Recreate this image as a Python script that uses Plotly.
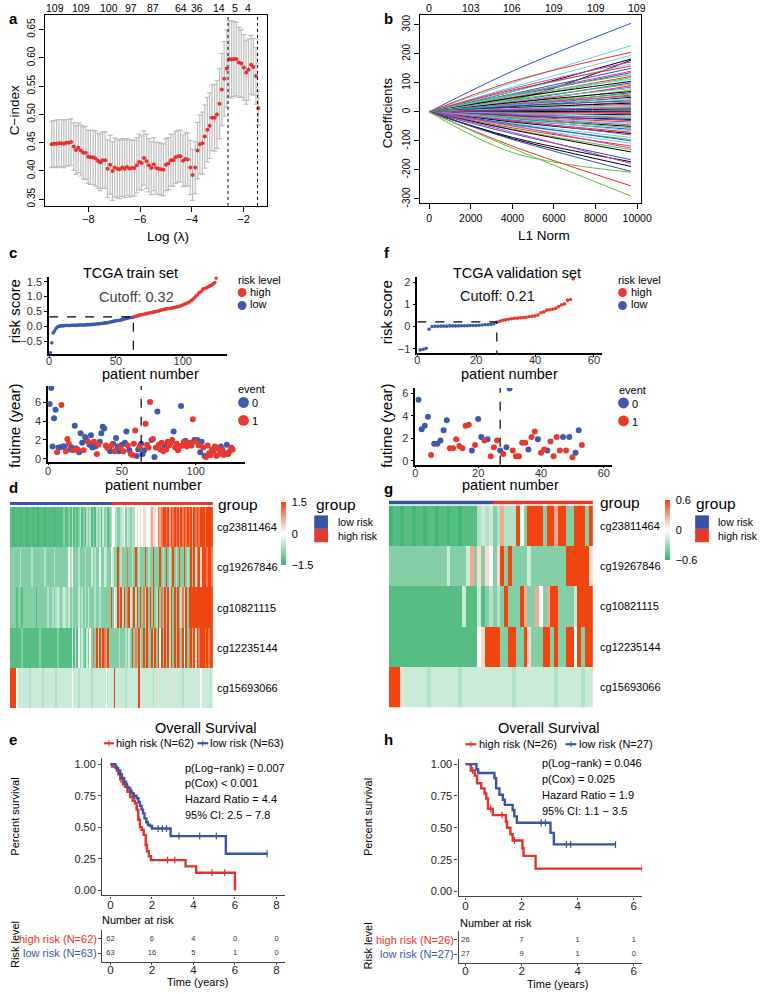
import plotly.graph_objects as go

W, H = 768, 994
FONT = "Liberation Sans, Arial, Helvetica, sans-serif"

# ======================= DATA =======================
# --- panel a: cross-validated C-index vs log(lambda)
cv_loglambda = [-9.42, -9.33, -9.23, -9.14, -9.04, -8.95, -8.86, -8.76, -8.67, -8.57,
                -8.48, -8.39, -8.29, -8.20, -8.10, -8.01, -7.92, -7.82, -7.73, -7.63,
                -7.54, -7.45, -7.35, -7.26, -7.16, -7.07, -6.98, -6.88, -6.79, -6.69,
                -6.60, -6.51, -6.41, -6.32, -6.22, -6.13, -6.04, -5.94, -5.85, -5.75,
                -5.66, -5.57, -5.47, -5.38, -5.28, -5.19, -5.10, -5.00, -4.91, -4.81,
                -4.72, -4.63, -4.53, -4.44, -4.34, -4.25, -4.16, -4.06, -3.97, -3.87,
                -3.78, -3.69, -3.59, -3.50, -3.40, -3.31, -3.22, -3.12, -3.03, -2.93,
                -2.84, -2.75, -2.65, -2.56, -2.46, -2.37, -2.28, -2.18, -2.09, -1.99,
                -1.90, -1.81, -1.71, -1.62, -1.52, -1.43]
cv_cindex = [0.447, 0.448, 0.448, 0.449, 0.449, 0.448, 0.450, 0.450, 0.451, 0.443,
             0.437, 0.441, 0.436, 0.432, 0.432, 0.425, 0.424, 0.424, 0.422, 0.418,
             0.415, 0.419, 0.419, 0.404, 0.411, 0.400, 0.406, 0.404, 0.403, 0.406,
             0.404, 0.407, 0.404, 0.405, 0.405, 0.410, 0.416, 0.414, 0.423, 0.417,
             0.410, 0.405, 0.412, 0.405, 0.404, 0.403, 0.402, 0.411, 0.413, 0.419,
             0.419, 0.424, 0.426, 0.426, 0.418, 0.421, 0.420, 0.406, 0.393, 0.406,
             0.436, 0.447, 0.449, 0.461, 0.473, 0.480, 0.494, 0.494, 0.500, 0.519,
             0.544, 0.563, 0.581, 0.598, 0.597, 0.598, 0.598, 0.592, 0.590, 0.583,
             0.574, 0.579, 0.588, 0.584, 0.568, 0.511]
cv_err = [0.041, 0.041, 0.042, 0.042, 0.042, 0.042, 0.041, 0.041, 0.041, 0.042,
          0.043, 0.044, 0.045, 0.046, 0.047, 0.047, 0.048, 0.048, 0.049, 0.049,
          0.050, 0.050, 0.050, 0.051, 0.052, 0.052, 0.052, 0.052, 0.052, 0.051,
          0.051, 0.050, 0.050, 0.050, 0.049, 0.049, 0.049, 0.048, 0.048, 0.048,
          0.047, 0.047, 0.047, 0.046, 0.046, 0.046, 0.046, 0.046, 0.046, 0.046,
          0.046, 0.046, 0.046, 0.046, 0.046, 0.047, 0.047, 0.048, 0.045, 0.046,
          0.050, 0.052, 0.055, 0.056, 0.057, 0.058, 0.058, 0.059, 0.060, 0.062,
          0.064, 0.066, 0.068, 0.068, 0.068, 0.066, 0.065, 0.062, 0.060, 0.058,
          0.056, 0.054, 0.052, 0.050, 0.050, 0.030]
lambda_min_log = -2.60
lambda_1se_log = -1.46
cv_top_pos = [-9.29, -8.28, -7.20, -6.34, -5.49, -4.41, -3.80, -2.95, -2.35, -1.81]
cv_top_labels = ["109", "109", "100", "97", "87", "64", "36", "14", "5", "4"]

# --- panel b: coefficient paths (value at L1 norm knots)
l1_knots = [0, 4000, 9700]
path_mid = [140, 100, 105, 85, 70, 40, 80, 70, 75, 62, 58, 55, 60, 50, 45, 55, 48, 38, 42, 30,
            35, 38, 25, 32, 22, 28, 20, 26, 18, 22, 15, 20, 12, 14, 10, 12, 6, 8, 4, 5,
            1, -2, -1, -6, -5, -10, -9, -14, -12, -16, -18, -20, -24, -22, -28, -25, -32, -35, -30, -40,
            -45, -42, -50, -55, -48, -60, -62, -75, -88, -70, -92, -95, -140, -118, -125]
path_end = [305, 228, 205, 195, 182, 178, 172, 165, 158, 150, 140, 135, 128, 122, 118, 112, 105, 100, 95, 90,
            85, 80, 75, 70, 66, 62, 58, 54, 50, 46, 42, 38, 34, 30, 26, 22, 18, 14, 10, 6,
            2, -2, -6, -10, -14, -18, -22, -26, -30, -35, -40, -45, -50, -55, -60, -65, -70, -75, -80, -88,
            -95, -100, -108, -118, -125, -130, -138, -165, -172, -178, -188, -205, -208, -255, -290]
path_color = [3, 4, 1, 4, 0, 0, 5, 4, 1, 3, 5, 3, 2, 1, 2, 4, 0, 3, 2, 1,
              5, 4, 2, 0, 3, 2, 1, 5, 0, 4, 2, 3, 5, 0, 1, 4, 2, 5, 0, 3,
              0, 5, 1, 0, 4, 2, 5, 0, 3, 1, 4, 5, 0, 2, 3, 4, 1, 0, 5, 4,
              2, 3, 4, 1, 5, 2, 0, 3, 0, 5, 0, 3, 2, 1, 2]
path_palette = ["#000000", "#E8312B", "#5CC03C", "#2E4FC4", "#5FD4E0", "#C53FC5"]
l1_top_pos = [0, 2000, 4000, 6000, 8000, 10000]
l1_top_labels = ["0", "103", "106", "109", "109", "109"]

# --- panel c: TCGA train set
train_risk = [-0.88, -0.55, -0.22, -0.15, -0.08, -0.03, 0.00, 0.01, 0.02, 0.02,
              0.02, 0.03, 0.03, 0.03, 0.03, 0.03, 0.04, 0.04, 0.04, 0.04,
              0.04, 0.05, 0.05, 0.05, 0.05, 0.05, 0.05, 0.06, 0.06, 0.06,
              0.06, 0.07, 0.07, 0.07, 0.08, 0.08, 0.09, 0.09, 0.10, 0.10,
              0.11, 0.12, 0.12, 0.13, 0.14, 0.15, 0.16, 0.17, 0.18, 0.19,
              0.20, 0.20, 0.21, 0.22, 0.23, 0.25, 0.26, 0.27, 0.28, 0.29,
              0.30, 0.30, 0.31, 0.33, 0.34, 0.35, 0.37, 0.38, 0.39, 0.40,
              0.41, 0.42, 0.43, 0.44, 0.45, 0.46, 0.47, 0.48, 0.49, 0.50,
              0.51, 0.52, 0.54, 0.55, 0.56, 0.57, 0.58, 0.59, 0.60, 0.60,
              0.61, 0.62, 0.63, 0.64, 0.65, 0.66, 0.67, 0.68, 0.70, 0.72,
              0.74, 0.76, 0.78, 0.80, 0.83, 0.86, 0.89, 0.93, 0.97, 1.02,
              1.06, 1.12, 1.15, 1.18, 1.25, 1.26, 1.28, 1.30, 1.32, 1.35,
              1.37, 1.40, 1.44, 1.47, 1.62]
train_cutoff = 0.32
train_time = [5.8, 7.5, 1.3, 4.3, 5.2, 0.7, 1.2, 1.2, 5.7, 1.3,
              1.3, 0.8, 2.1, 1.6, 1.0, 1.2, 0.9, 3.5, 1.1, 1.0,
              0.7, 2.7, 1.7, 0.9, 2.3, 2.0, 1.8, 1.5, 2.5, 1.2,
              1.8, 1.3, 0.5, 1.5, 1.8, 2.7, 3.4, 3.2, 1.4, 1.2,
              1.1, 0.8, 1.4, 1.6, 0.8, 2.2, 1.3, 0.8, 1.2, 1.5,
              0.8, 1.7, 2.9, 1.4, 0.9, 0.5, 0.4, 1.6, 3.0, 0.3,
              1.0, 1.3, 1.6, 0.5, 0.9, 3.7, 1.5, 1.2, 6.0, 2.0,
              2.1, 0.2, 1.2, 5.0, 1.5, 1.0, 1.7, 0.8, 1.4, 1.0,
              1.8, 1.4, 1.7, 2.0, 2.9, 1.2, 1.6, 0.9, 1.3, 5.6,
              1.4, 1.8, 1.9, 1.3, 1.6, 1.7, 1.4, 4.2, 2.0, 1.8,
              2.0, 1.4, 0.7, 1.8, 1.2, 0.3, 0.2, 1.4, 0.6, 0.4,
              1.0, 0.8, 1.3, 0.3, 1.1, 0.5, 1.3, 1.0, 0.4, 0.6,
              1.5, 0.5, 0.8, 1.2, 1.0]
train_event = [0, 0, 0, 0, 0, 1, 0, 0, 1, 0,
               0, 1, 1, 1, 0, 0, 1, 0, 0, 1,
               0, 0, 0, 1, 0, 0, 1, 0, 0, 0,
               1, 0, 1, 1, 0, 0, 0, 0, 1, 1,
               0, 0, 1, 0, 1, 0, 0, 0, 1, 0,
               1, 0, 0, 1, 0, 1, 1, 1, 1, 0,
               0, 1, 0, 0, 0, 1, 1, 1, 1, 0,
               1, 0, 1, 0, 1, 1, 1, 1, 0, 1,
               1, 1, 0, 1, 0, 1, 1, 1, 1, 0,
               1, 1, 0, 1, 1, 1, 1, 1, 0, 1,
               0, 1, 0, 0, 1, 0, 1, 1, 1, 1,
               1, 1, 1, 1, 1, 1, 0, 1, 1, 0,
               0, 1, 1, 1, 1]

# --- panel f: TCGA validation set
valid_risk = [-1.05, -1.02, -0.98, -0.12, 0.00, 0.01, 0.01, 0.02, 0.02, 0.02,
              0.03, 0.03, 0.03, 0.03, 0.04, 0.04, 0.04, 0.05, 0.05, 0.05,
              0.06, 0.07, 0.08, 0.09, 0.10, 0.13, 0.19, 0.24, 0.28, 0.30,
              0.33, 0.35, 0.37, 0.38, 0.40, 0.41, 0.42, 0.44, 0.46, 0.48,
              0.52, 0.62, 0.66, 0.74, 0.76, 0.78, 0.82, 0.90, 0.98, 1.02,
              1.18, 1.22, 2.15]
valid_cutoff = 0.21
valid_time = [5.4, 2.8, 3.1, 3.9, 0.5, 1.5, 1.5, 1.8, 2.7, 3.6,
              1.1, 1.1, 1.9, 1.3, 1.1, 3.1, 3.2, 0.9, 1.4, 3.7,
              2.1, 1.8, 1.9, 0.4, 1.2, 1.8, 0.9, 0.6, 1.2, 6.4,
              0.9, 0.4, 0.4, 1.6, 1.6, 1.0, 2.1, 2.6, 1.9, 0.7,
              1.0, 0.9, 1.7, 0.4, 2.1, 0.9, 2.1, 0.9, 2.1, 0.3,
              0.7, 2.7, 1.4]
valid_event = [0, 0, 0, 0, 1, 0, 0, 0, 0, 0,
               1, 1, 1, 1, 1, 1, 1, 0, 1, 0,
               0, 1, 0, 1, 1, 1, 0, 1, 0, 0,
               1, 1, 1, 1, 1, 0, 1, 1, 0, 1,
               1, 0, 1, 1, 1, 1, 0, 1, 0, 1,
               0, 0, 1]

# --- panels d / g: heatmaps (each digit = one patient column, level index)
probes = ["cg23811464", "cg19267846", "cg10821115", "cg12235144", "cg15693066"]
train_n_low, train_n_high = 63, 62
valid_n_low, valid_n_high = 27, 26
train_heat_rows = [
    "11011 10111 01110 11011 10111 11011 11121 12131 21231 21323 12132 31423 12355 32234 52432 33545 65645 56746 58789 98979 89897 98989 89798 98999 89999",
    "22222 23222 22232 22222 23222 22322 22222 25352 22322 23222 42322 52243 22542 29232 22822 32923 22292 32292 22923 29232 92329 22923 29293 89699 98998",
    "22221 22122 22222 21222 22232 23234 32343 24232 22423 23242 22322 32222 22925 49293 92894 29392 92839 29292 39282 92939 29292 38392 99999 99999 99999",
    "11111 11211 11111 11121 11111 11112 11111 11141 41524 21425 28296 92982 92222 22322 23242 92829 32929 22939 29592 92939 29298 29592 89296 98999 89899",
    "99995 44444 44344 44444 34444 44434 44444 44454 44344 44444 34444 44445 44449 44444 43444 44449 44444 44434 46444 44446 44444 43444 44444 44544 44434",
]
train_levels = [-1.45, -1.3, -0.95, -0.6, -0.4, 0.0, 0.3, 0.7, 1.1, 1.5]
valid_heat_rows = [
    "01101 10110 11011 01101 11134 34" + "23733 39529 99929 97992 29992 9",
    "22222 22222 22222 42222 47262 65" + "26929 22224 22222 22229 99999 6",
    "11111 11111 11111 11114 11141 23" + "23292 22972 27527 99222 24999 9",
    "11111 11111 11111 11111 11156 99" + "99229 92296 22299 29229 95929 9",
    "99964 44444 34444 44434 44444 44" + "44444 34444 44444 43444 44434 4",
]
valid_levels = [-0.58, -0.52, -0.38, -0.24, -0.16, 0.0, 0.12, 0.28, 0.44, 0.6]

# --- panels e / h: Kaplan-Meier
km_e_high_t = [0, 0.08, 0.24, 0.30, 0.38, 0.47, 0.60, 0.70, 0.82, 0.95, 1.07, 1.18, 1.26, 1.34,
               1.42, 1.50, 1.60, 1.70, 1.76, 1.85, 1.95, 3.62, 4.13, 6.0]
km_e_high_s = [1, 0.98, 0.97, 0.95, 0.92, 0.88, 0.84, 0.82, 0.78, 0.74, 0.71, 0.69, 0.64, 0.56,
               0.50, 0.48, 0.44, 0.36, 0.31, 0.27, 0.24, 0.19, 0.14, 0.0]
km_e_low_t = [0, 0.24, 0.30, 0.35, 0.47, 0.55, 0.66, 0.75, 0.80, 0.87, 0.95, 1.02, 1.10, 1.26,
              1.35, 1.42, 1.50, 1.57, 1.64, 1.73, 1.80, 1.90, 2.00, 2.90, 5.56, 7.55]
km_e_low_s = [1, 0.98, 0.97, 0.95, 0.92, 0.89, 0.86, 0.84, 0.82, 0.81, 0.79, 0.77, 0.75, 0.73,
              0.70, 0.67, 0.64, 0.61, 0.57, 0.54, 0.52, 0.51, 0.49, 0.43, 0.29, 0.29]
km_e_high_cens = [0.5, 1.3, 2.75, 3.1, 4.9, 5.5]
km_e_low_cens = [0.4, 1.15, 2.3, 2.5, 2.7, 3.3, 4.3, 5.1, 7.55]
km_h_high_t = [0, 0.19, 0.33, 0.41, 0.56, 0.68, 0.74, 0.80, 0.97, 1.44, 1.48, 1.60, 1.68, 2.03, 2.07, 2.50, 6.3]
km_h_high_s = [1, 0.95, 0.91, 0.85, 0.81, 0.77, 0.73, 0.65, 0.60, 0.55, 0.50, 0.45, 0.40, 0.34, 0.28, 0.18, 0.18]
km_h_low_t = [0, 0.39, 0.45, 1.03, 1.09, 1.21, 1.33, 1.40, 1.68, 1.74, 1.83, 3.03, 3.15, 5.35]
km_h_low_s = [1, 0.96, 0.93, 0.89, 0.81, 0.76, 0.72, 0.68, 0.64, 0.59, 0.54, 0.46, 0.37, 0.37]
km_h_high_cens = [0.25, 0.9, 1.3, 1.75, 6.3]
km_h_low_cens = [2.7, 2.85, 3.6, 3.75, 5.35]
risk_times_e = [0, 2, 4, 6, 8]
risk_e_high = [62, 6, 4, 0, 0]
risk_e_low = [63, 16, 5, 1, 0]
risk_times_h = [0, 2, 4, 6]
risk_h_high = [26, 7, 1, 1]
risk_h_low = [27, 9, 1, 0]
stats_e = ["p(Log\u2212rank) = 0.007", "p(Cox) < 0.001", "Hazard Ratio = 4.4", "95% CI: 2.5 \u2212 7.8"]
stats_h = ["p(Log\u2212rank) = 0.046", "p(Cox) = 0.025", "Hazard Ratio = 1.9", "95% CI: 1.1 \u2212 3.5"]

# ======================= STYLE =======================
RED = "#E8392F"
BLUE = "#3C5AAE"
KM_RED = "#E4312B"
KM_BLUE = "#3B55A6"
HEAT_SCALE = [[0, "#3CB371"], [0.5, "#FFFFFF"], [1, "#EE4511"]]


def dx(x0, x1):
    return [x0 / W, x1 / W]


def dy(y0, y1):
    return [1 - y1 / H, 1 - y0 / H]


fig = go.Figure()
annotations = []
shapes = []


def txt(s, x, y, size=11, xa="left", ya="middle", color="black", angle=0, bold=False):
    if bold:
        s = "<b>" + s + "</b>"
    annotations.append(dict(text=s, x=x / W, y=1 - y / H, xref="paper", yref="paper",
                            xanchor=xa, yanchor=ya, showarrow=False, textangle=angle, borderpad=0,
                            font=dict(size=size, color=color, family=FONT)))


def circ(cx, cy, r, color):
    shapes.append(dict(type="circle", xref="paper", yref="paper",
                       x0=(cx - r) / W, x1=(cx + r) / W, y0=1 - (cy + r) / H, y1=1 - (cy - r) / H,
                       fillcolor=color, line=dict(width=0)))


def rect(x0, y0, x1, y1, color):
    shapes.append(dict(type="rect", xref="paper", yref="paper",
                       x0=x0 / W, x1=x1 / W, y0=1 - y1 / H, y1=1 - y0 / H,
                       fillcolor=color, line=dict(width=0)))


def pline(x0, y0, x1, y1, color, width=1, dash="solid"):
    shapes.append(dict(type="line", xref="paper", yref="paper",
                       x0=x0 / W, x1=x1 / W, y0=1 - y0 / H, y1=1 - y1 / H,
                       line=dict(color=color, width=width, dash=dash)))


layout_axes = {}


def base_axis(domain, rng, tickvals, ticktext, anchor, size=10, angle=0, mirror=True, standoff=0):
    return dict(domain=domain, range=rng, tickvals=tickvals, ticktext=ticktext, anchor=anchor,
                showline=True, mirror=mirror, linecolor="black", linewidth=1,
                ticks="outside", ticklen=5, tickcolor="black", tickwidth=1,
                tickfont=dict(size=size, family=FONT, color="black"), tickangle=angle,
                ticklabelstandoff=standoff,
                showgrid=False, zeroline=False, fixedrange=True)


def gg_axis(domain, rng, tickvals, ticktext, anchor, size=11, lw=1.6, color="black", tick_color="#333333",
            ticklen=3, standoff=0):
    return dict(domain=domain, range=rng, tickvals=tickvals, ticktext=ticktext, anchor=anchor,
                showline=True, mirror=False, linecolor=color, linewidth=lw,
                ticks="outside", ticklen=ticklen, tickcolor=color, tickwidth=1,
                tickfont=dict(size=size, family=FONT, color=tick_color),
                ticklabelstandoff=standoff,
                showgrid=False, zeroline=False, fixedrange=True)


def hidden_axis(domain, rng, anchor):
    return dict(domain=domain, range=rng, anchor=anchor, visible=False, showgrid=False,
                zeroline=False, fixedrange=True)


# ======================= PANEL a =======================
fig.add_trace(go.Scatter(x=cv_loglambda, y=cv_cindex, mode="markers",
                         marker=dict(color="#E8312B", size=4),
                         error_y=dict(type="data", array=cv_err, color="#BDBDBD", thickness=1.2, width=2.5),
                         xaxis="x", yaxis="y", showlegend=False, hoverinfo="skip"))
for v in (lambda_min_log, lambda_1se_log):
    shapes.append(dict(type="line", xref="x", yref="y domain", x0=v, x1=v, y0=0, y1=1,
                       line=dict(color="black", width=1, dash="dot")))
layout_axes["xaxis"] = base_axis(dx(43, 269), [-9.67, -1.09], [-8, -6, -4, -2],
                                 ["\u22128", "\u22126", "\u22124", "\u22122"], "y", size=11, standoff=-2)
layout_axes["yaxis"] = base_axis(dy(14, 206), [0.338, 0.676],
                                 [0.35, 0.40, 0.45, 0.50, 0.55, 0.60, 0.65],
                                 ["0.35", "0.40", "0.45", "0.50", "0.55", "0.60", "0.65"], "x", angle=-90)
for p, lab in zip(cv_top_pos, cv_top_labels):
    annotations.append(dict(text=lab, x=p, y=1 - 7 / H, xref="x", yref="paper", showarrow=False,
                            xanchor="center", yanchor="middle", font=dict(size=10.5, family=FONT)))
txt("C\u2212index", 12, 110, size=13.5, xa="center", angle=-90)
txt("Log (\u03bb)", 168, 237, size=13.5, xa="center")

# ======================= PANEL b =======================
for m, e, c in zip(path_mid, path_end, path_color):
    fig.add_trace(go.Scatter(x=l1_knots, y=[0, m, e], mode="lines",
                             line=dict(color=path_palette[c], width=1, shape="spline"),
                             xaxis="x2", yaxis="y2", showlegend=False, hoverinfo="skip"))
layout_axes["xaxis2"] = base_axis(dx(425, 650), [-425, 10190], [0, 2000, 4000, 6000, 8000, 10000],
                                  ["0", "2000", "4000", "6000", "8000", "10000"], "y2", size=10.5)
layout_axes["yaxis2"] = base_axis(dy(14, 203), [-314, 334], [-300, -200, -100, 0, 100, 200, 300],
                                  ["-300", "-200", "-100", "0", "100", "200", "300"], "x2", angle=-90)
for p, lab in zip(l1_top_pos, l1_top_labels):
    annotations.append(dict(text=lab, x=p, y=1 - 7 / H, xref="x2", yref="paper", showarrow=False,
                            xanchor="center", yanchor="middle", font=dict(size=10.5, family=FONT)))
txt("Coefficients", 392, 112, size=13.5, xa="center", angle=-90)
txt("L1 Norm", 551, 236, size=13.5, xa="center")

# ======================= PANEL c / f risk score plots =======================


def risk_panel(risk, cutoff, xa, ya):
    idx = list(range(1, len(risk) + 1))
    lo = [(i, r) for i, r in zip(idx, risk) if r <= cutoff]
    hi = [(i, r) for i, r in zip(idx, risk) if r > cutoff]
    fig.add_trace(go.Scatter(x=[a for a, _ in lo], y=[b for _, b in lo], mode="markers",
                             marker=dict(color=BLUE, size=3.6), xaxis=xa, yaxis=ya, showlegend=False))
    fig.add_trace(go.Scatter(x=[a for a, _ in hi], y=[b for _, b in hi], mode="markers",
                             marker=dict(color=RED, size=3.6), xaxis=xa, yaxis=ya, showlegend=False))
    return len(lo)


def surv_panel(time, event, n_low, xa, ya):
    idx = list(range(1, len(time) + 1))
    for ev, col in ((0, BLUE), (1, RED)):
        pts = [(i, t) for i, t, e in zip(idx, time, event) if e == ev]
        fig.add_trace(go.Scatter(x=[a for a, _ in pts], y=[b for _, b in pts], mode="markers",
                                 marker=dict(color=col, size=6), xaxis=xa, yaxis=ya, showlegend=False))
    shapes.append(dict(type="line", xref=xa, yref=ya + " domain", x0=n_low, x1=n_low, y0=0, y1=1,
                       line=dict(color="black", width=1.2, dash="dash")))


# c top
c_yr = [-0.93, 1.67]
nl = risk_panel(train_risk, train_cutoff, "x3", "y3")
fig.add_trace(go.Scatter(x=[0, nl, nl], y=[train_cutoff, train_cutoff, c_yr[0]], mode="lines",
                         line=dict(color="black", width=1.2, dash="dash"), xaxis="x3", yaxis="y3",
                         showlegend=False))
layout_axes["xaxis3"] = gg_axis(dx(47, 228), [0, 133], [0, 50, 100], ["0", "50", "100"], "y3", ticklen=2, standoff=-6)
layout_axes["yaxis3"] = gg_axis(dy(277, 355), c_yr, [-0.5, 0, 0.5, 1.0, 1.5],
                                ["\u22120.5", "0.0", "0.5", "1.0", "1.5"], "x3")
# c bottom
surv_panel(train_time, train_event, train_n_low, "x4", "y4")
layout_axes["xaxis4"] = gg_axis(dx(46, 246), [0, 133], [0, 50, 100], ["0", "50", "100"], "y4", ticklen=2, standoff=-4)
layout_axes["yaxis4"] = gg_axis(dy(387, 463), [-0.3, 7.7], [0, 2, 4, 6], ["0", "2", "4", "6"], "x4")

# f top
f_yr = [-1.2, 2.25]
nl = risk_panel(valid_risk, valid_cutoff, "x5", "y5")
fig.add_trace(go.Scatter(x=[0, nl, nl], y=[valid_cutoff, valid_cutoff, f_yr[0]], mode="lines",
                         line=dict(color="black", width=1.2, dash="dash"), xaxis="x5", yaxis="y5",
                         showlegend=False))
layout_axes["xaxis5"] = gg_axis(dx(422, 610), [0, 62.7], [0, 20, 40, 60], ["0", "20", "40", "60"], "y5", ticklen=2, standoff=-6)
layout_axes["yaxis5"] = gg_axis(dy(277, 354), f_yr, [-1, 0, 1, 2], ["\u22121", "0", "1", "2"], "x5")
# f bottom
surv_panel(valid_time, valid_event, valid_n_low, "x6", "y6")
layout_axes["xaxis6"] = gg_axis(dx(420, 620), [0, 62.5], [0, 20, 40, 60], ["0", "20", "40", "60"], "y6", ticklen=2, standoff=-5)
layout_axes["yaxis6"] = gg_axis(dy(389, 466), [-0.35, 6.45], [0, 2, 4, 6], ["0", "2", "4", "6"], "x6")

# texts c
txt("TCGA train set", 130, 273, size=14.5, xa="center")
txt("Cutoff: 0.32", 136, 297, size=14.5, xa="center", color="#444444")
txt("risk score", 12, 312, size=15, xa="center", angle=-90)
txt("patient number", 150, 375, size=14.5, xa="center")
txt("futime (year)", 12, 427, size=15, xa="center", angle=-90)
txt("patient number", 153, 486, size=14.5, xa="center")
txt("risk level", 238, 280, size=11)
circ(243.5, 293, 4.5, RED)
txt("high", 251, 292, size=11)
circ(243.5, 306, 4.5, BLUE)
txt("low", 251, 305, size=11)
txt("event", 238, 390, size=11)
circ(245, 403.5, 5.5, BLUE)
txt("0", 253, 404, size=11)
circ(245, 421.5, 5.5, RED)
txt("1", 253, 422, size=11)
# texts f
txt("TCGA validation set", 524, 273, size=14.5, xa="center")
txt("Cutoff: 0.21", 504, 296, size=14.5, xa="center", color="#111111")
txt("risk score", 391, 313, size=15, xa="center", angle=-90)
txt("patient number", 516, 375, size=14.5, xa="center")
txt("futime (year)", 391, 427, size=15, xa="center", angle=-90)
txt("patient number", 517, 486, size=14.5, xa="center")
txt("risk level", 625, 280, size=11)
circ(631, 293, 4.5, RED)
txt("high", 639, 292, size=11)
circ(631, 306, 4.5, BLUE)
txt("low", 639, 305, size=11)
txt("event", 626, 391, size=11)
circ(632, 404, 5.5, BLUE)
txt("0", 640, 405, size=11)
circ(632, 422, 5.5, RED)
txt("1", 640, 423, size=11)

# ======================= PANELS d / g heatmaps =======================


def decode(rows, levels):
    return [[levels[int(ch)] for ch in r.replace(" ", "")] for r in rows]


def heat_panel(rows, levels, n_low, n_high, xa, ya, xb, yb, x0, x1, ybar0, ybar1, yh0, yh1, cb_x, cb_y0, cb_y1,
               cb_vals, cb_text, label_gap):
    z = decode(rows, levels)
    n = n_low + n_high
    for r in z:
        assert len(r) == n, (len(r), n)
    cols = list(range(1, n + 1))
    fig.add_trace(go.Heatmap(z=z, x=cols, y=probes, colorscale=HEAT_SCALE, zmin=cb_vals[0], zmax=cb_vals[-1],
                             xaxis=xa, yaxis=ya, hoverinfo="skip",
                             colorbar=dict(x=cb_x / W, xanchor="left", y=1 - (cb_y0 + cb_y1) / 2 / H, yanchor="middle",
                                           len=cb_y1 - cb_y0, lenmode="pixels", thickness=5, thicknessmode="pixels",
                                           outlinewidth=0, tickvals=cb_vals, ticktext=cb_text,
                                           tickfont=dict(size=11, family=FONT), ticks="outside", ticklen=4,
                                           tickcolor="rgba(0,0,0,0)", xpad=0, ypad=0)))
    grp = [[0] * n_low + [1] * n_high]
    fig.add_trace(go.Heatmap(z=grp, x=cols, y=["group"], colorscale=[[0, "#3953A4"], [0.5, "#3953A4"], [0.5, "#E23A2C"], [1, "#E23A2C"]],
                             zmin=0, zmax=1, showscale=False, xaxis=xb, yaxis=yb, hoverinfo="skip"))
    layout_axes["xaxis" + xa[1:]] = hidden_axis(dx(x0, x1), [0.5, n + 0.5], ya)
    layout_axes["yaxis" + ya[1:]] = dict(domain=dy(yh0, yh1), anchor=xa, autorange="reversed", side="right",
                                         showline=False, ticks="", showgrid=False, zeroline=False,
                                         ticklabelstandoff=label_gap,
                                         tickfont=dict(size=11, family=FONT), fixedrange=True)
    layout_axes["xaxis" + xb[1:]] = hidden_axis(dx(x0, x1), [0.5, n + 0.5], yb)
    layout_axes["yaxis" + yb[1:]] = dict(domain=dy(ybar0, ybar1), anchor=xb, visible=False, fixedrange=True)


heat_panel(train_heat_rows, train_levels, train_n_low, train_n_high, "x7", "y7", "x8", "y8",
           7, 214, 503.5, 507, 508.5, 711, 283, 504, 567, [-1.5, 0, 1.5], ["\u22121.5", "0", "1.5"], 3)
heat_panel(valid_heat_rows, valid_levels, valid_n_low, valid_n_high, "x9", "y9", "x10", "y10",
           393, 601, 502, 506, 507, 710, 674, 502, 562, [-0.6, 0, 0.6], ["\u22120.6", "0", "0.6"], 6)
# group labels and legends
txt("group", 218, 506, size=15.5)
txt("group", 318, 506, size=15.5)
rect(317, 517, 331, 530.5, "#3953A4")
rect(317, 530.5, 331, 544, "#E23A2C")
txt("low risk", 340, 524, size=10.5)
txt("high risk", 340, 538, size=10.5)
txt("group", 607, 504, size=15.5)
txt("group", 705, 505, size=15.5)
rect(705, 517, 719, 530.5, "#3953A4")
rect(705, 530.5, 719, 544, "#E23A2C")
txt("low risk", 727, 524, size=10.5)
txt("high risk", 727, 538, size=10.5)

# ======================= PANELS e / h Kaplan-Meier =======================


def surv_at(ts, ss, t):
    val = ss[0]
    for a, b in zip(ts, ss):
        if a <= t:
            val = b
    return val


def km_panel(curves, xa, ya, xt, yt, xdom, ydom, tdom, xr, yr, xticks, times, hi, lo):
    for ts, ss, cens, col in curves:
        fig.add_trace(go.Scatter(x=ts, y=ss, mode="lines", line=dict(shape="hv", color=col, width=2.4),
                                 xaxis=xa, yaxis=ya, showlegend=False, hoverinfo="skip"))
        fig.add_trace(go.Scatter(x=cens, y=[surv_at(ts, ss, c) for c in cens], mode="markers",
                                 marker=dict(symbol="line-ns", size=5, line=dict(color=col, width=1.2)),
                                 xaxis=xa, yaxis=ya, showlegend=False, hoverinfo="skip"))
    fig.add_trace(go.Scatter(x=times, y=[1] * len(times), mode="text", text=[str(v) for v in hi],
                             textfont=dict(size=7.5, family=FONT, color="#333333"),
                             xaxis=xt, yaxis=yt, showlegend=False, hoverinfo="skip"))
    fig.add_trace(go.Scatter(x=times, y=[0] * len(times), mode="text", text=[str(v) for v in lo],
                             textfont=dict(size=7.5, family=FONT, color="#333333"),
                             xaxis=xt, yaxis=yt, showlegend=False, hoverinfo="skip"))
    tt = [str(v) for v in xticks]
    layout_axes["xaxis" + xa[1:]] = gg_axis(xdom, xr, xticks, tt, ya, size=11.5, lw=1.2, color="#444444",
                                            tick_color="#222222", ticklen=2, standoff=-3)
    layout_axes["yaxis" + ya[1:]] = gg_axis(ydom, yr, [0, 0.25, 0.5, 0.75, 1.0],
                                            ["0.00", "0.25", "0.50", "0.75", "1.00"], xa, size=11, lw=1.2,
                                            color="#444444", tick_color="#222222")
    layout_axes["xaxis" + xt[1:]] = gg_axis(xdom, xr, xticks, tt, yt, size=11.5, lw=1.2, color="#444444",
                                            tick_color="#222222", ticklen=2, standoff=-5)
    ax = gg_axis(tdom, [-0.6, 1.6], [0, 1], ["", ""], xt, size=11, lw=1.2, color="#444444")
    ax["showticklabels"] = False
    layout_axes["yaxis" + yt[1:]] = ax


km_panel([(km_e_high_t, km_e_high_s, km_e_high_cens, KM_RED), (km_e_low_t, km_e_low_s, km_e_low_cens, KM_BLUE)],
         "x11", "y11", "x12", "y12", dx(101, 287), dy(761, 899), dy(934, 966), [-0.4, 8.4], [-0.04, 1.047],
         [0, 2, 4, 6, 8], risk_times_e, risk_e_high, risk_e_low)
km_panel([(km_h_high_t, km_h_high_s, km_h_high_cens, KM_RED), (km_h_low_t, km_h_low_s, km_h_low_cens, KM_BLUE)],
         "x13", "y13", "x14", "y14", dx(464, 651), dy(762, 900), dy(935, 967), [-0.25, 6.3], [-0.039, 1.039],
         [0, 2, 4, 6], risk_times_h, risk_h_high, risk_h_low)

# KM texts e
txt("Overall Survival", 207, 731, size=14.5, xa="center")
pline(103, 746, 113, 746, KM_RED, 2.2)
pline(108, 743, 108, 749, KM_RED, 1)
txt("high risk (N=62)", 114, 746, size=11)
pline(198, 746, 209, 746, KM_BLUE, 2.2)
pline(203.5, 743, 203.5, 749, KM_BLUE, 1)
txt("low risk (N=63)", 210, 746, size=11)
for i, s in enumerate(stats_e):
    txt(s, 184, [771, 786, 802, 818][i], size=11)
txt("Percent survival", 12, 820, size=11, xa="center", angle=-90)
txt("Number at risk", 100, 924, size=11)
txt("high risk (N=62)", 97, 942.5, size=11, xa="right", color=KM_RED)
txt("low risk (N=63)", 97, 956.5, size=11, xa="right", color=KM_BLUE)
txt("Risk level", 12, 948, size=11, xa="center", angle=-90)
txt("Time (years)", 198, 986, size=11, xa="center")
# KM texts h
txt("Overall Survival", 556, 731, size=14.5, xa="center")
pline(471, 747, 482, 747, KM_RED, 2.2)
pline(476.5, 744, 476.5, 750, KM_RED, 1)
txt("high risk (N=26)", 484, 747, size=11)
pline(573, 747, 584, 747, KM_BLUE, 2.2)
pline(578.5, 744, 578.5, 750, KM_BLUE, 1)
txt("low risk (N=27)", 586, 747, size=11)
for i, s in enumerate(stats_h):
    txt(s, 548, [766, 782, 798, 814][i], size=11)
txt("Percent survival", 372, 820, size=11, xa="center", angle=-90)
txt("Number at risk", 464, 927, size=11)
txt("high risk (N=26)", 460, 944, size=11, xa="right", color=KM_RED)
txt("low risk (N=27)", 460, 958, size=11, xa="right", color=KM_BLUE)
txt("Risk level", 372, 950, size=11, xa="center", angle=-90)
txt("Time (years)", 565, 988, size=11, xa="center")

# panel letters
for lab, x, y in (("a", 5, 18), ("b", 387, 18), ("c", 5, 253), ("f", 387, 253),
                  ("d", 5, 489), ("g", 387, 490), ("e", 5, 742), ("h", 387, 742)):
    txt(lab, x, y, size=15, bold=True)

fig.update_layout(width=W, height=H, margin=dict(l=0, r=0, t=0, b=0, pad=0),
                  paper_bgcolor="white", plot_bgcolor="white", showlegend=False,
                  font=dict(family=FONT, color="black"),
                  annotations=annotations, shapes=shapes, **layout_axes)
fig.write_html("out.html", config={"displayModeBar": False},
               post_script="document.body.style.margin='0';document.body.style.overflow='hidden';")
